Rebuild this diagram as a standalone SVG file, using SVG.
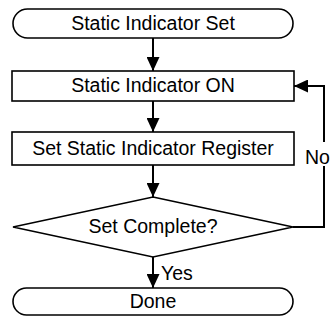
<svg xmlns="http://www.w3.org/2000/svg" width="330" height="322" viewBox="0 0 330 322">
<style>
.s{fill:#fff;stroke:#000;stroke-width:1.6}
.t{font-family:"Liberation Sans",Arial,sans-serif;font-size:19.5px;fill:#000;text-anchor:middle}
.l{font-family:"Liberation Sans",Arial,sans-serif;font-size:19.5px;fill:#000}
.c{fill:none;stroke:#000;stroke-width:2}
</style>
<defs>
<marker id="a" markerWidth="14" markerHeight="13" refX="14" refY="6.5" orient="auto" markerUnits="userSpaceOnUse">
<path d="M0,0 L14,6.5 L0,13 Z" fill="#000"/>
</marker>
</defs>
<rect width="330" height="322" fill="#fff"/>
<g id="connectors">
<line class="c" x1="153" y1="38" x2="153" y2="71" marker-end="url(#a)"/>
<line class="c" x1="153" y1="101" x2="153" y2="132" marker-end="url(#a)"/>
<line class="c" x1="153" y1="165" x2="153" y2="197" marker-end="url(#a)"/>
<line class="c" x1="153" y1="257" x2="153" y2="288" marker-end="url(#a)"/>
<polyline class="c" points="293,227 324,227 324,86 294,86" marker-end="url(#a)"/>
<rect x="304" y="142" width="26" height="24" fill="#fff"/>
<text class="l" x="305" y="164">No</text>
<text class="l" x="161" y="280">Yes</text>
</g>
<g id="start">
<rect class="s" x="13" y="9" width="280" height="29" rx="14.5"/>
<text class="t" x="153" y="30">Static Indicator Set</text>
</g>
<g id="on">
<rect class="s" x="12" y="71" width="282" height="30"/>
<text class="t" x="153" y="92">Static Indicator ON</text>
</g>
<g id="register">
<rect class="s" x="12" y="132" width="282" height="33"/>
<text class="t" x="153" y="155">Set Static Indicator Register</text>
</g>
<g id="decision">
<polygon class="s" points="153,197 293,227 153,257 13,227"/>
<text class="t" x="153" y="233">Set Complete?</text>
</g>
<g id="done">
<rect class="s" x="13" y="288" width="280" height="27" rx="13.5"/>
<text class="t" x="153" y="308">Done</text>
</g>
</svg>
